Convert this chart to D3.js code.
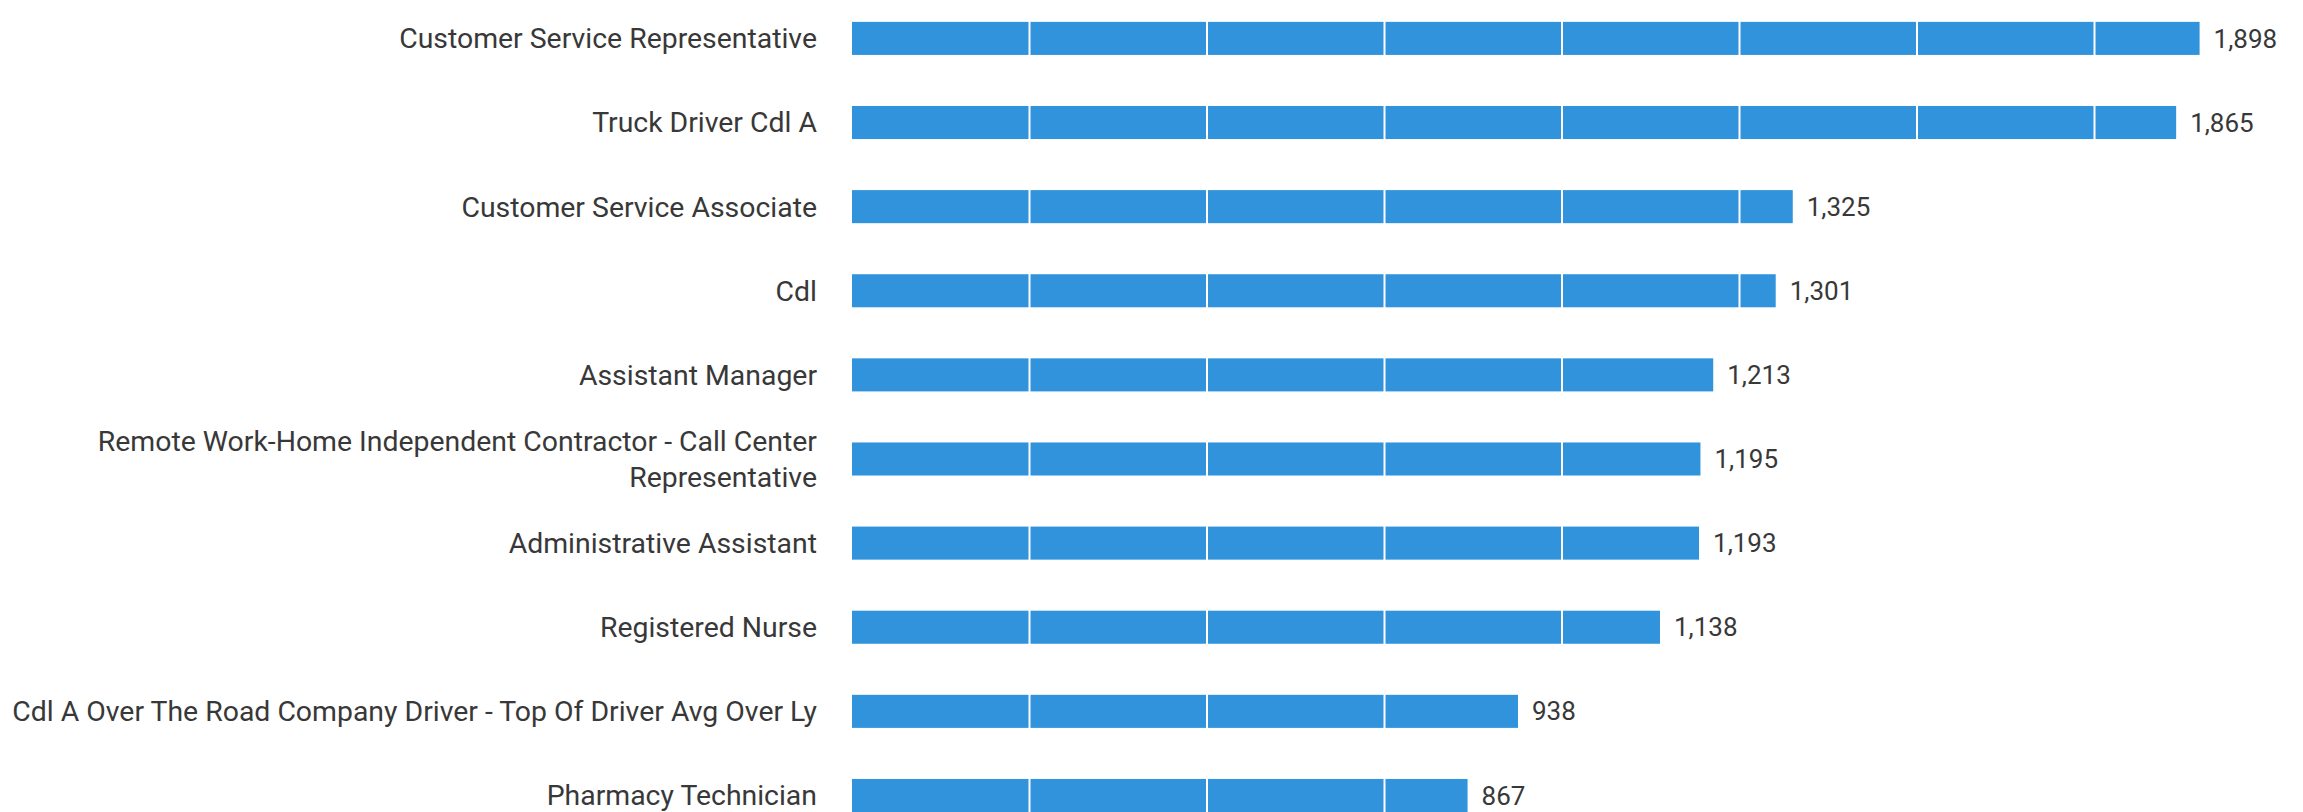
<!DOCTYPE html>
<html>
<head>
<meta charset="utf-8">
<script src="https://cdnjs.cloudflare.com/ajax/libs/d3/7.8.5/d3.min.js"></script>
<style>
  html, body { margin: 0; padding: 0; background: #ffffff; }
  svg { display: block; }
  text { font-family: Roboto, "Noto Sans", sans-serif; fill: #383838; }
</style>
</head>
<body>
<svg id="chart" width="2303" height="812"></svg>
<script>
// Job titles and their posting counts
const categories = [
  "Customer Service Representative",
  "Truck Driver Cdl A",
  "Customer Service Associate",
  "Cdl",
  "Assistant Manager",
  "Remote Work-Home Independent Contractor - Call Center Representative",
  "Administrative Assistant",
  "Registered Nurse",
  "Cdl A Over The Road Company Driver - Top Of Driver Avg Over Ly",
  "Pharmacy Technician"
];
const values = [1898, 1865, 1325, 1301, 1213, 1195, 1193, 1138, 938, 867];
// Category labels as broken into lines
const labelLines = [
  ["Customer Service Representative"],
  ["Truck Driver Cdl A"],
  ["Customer Service Associate"],
  ["Cdl"],
  ["Assistant Manager"],
  ["Remote Work-Home Independent Contractor - Call Center", "Representative"],
  ["Administrative Assistant"],
  ["Registered Nurse"],
  ["Cdl A Over The Road Company Driver - Top Of Driver Avg Over Ly"],
  ["Pharmacy Technician"]
];
const gridTicks = [250, 500, 750, 1000, 1250, 1500, 1750];

const W = 2303, H = 812;
const plotLeft = 852;
const labelGap = 35;
const svg = d3.select("#chart");

const x = d3.scaleLinear().domain([0, 2000]).range([plotLeft, plotLeft + 1420]);
const y = d3.scaleBand().domain(categories).range([0, H])
  .paddingInner(0.607).paddingOuter(0.13).align(1);

const data = categories.map((c, i) => ({ cat: c, value: values[i], lines: labelLines[i] }));
const fmt = d3.format(",");

// Bars
svg.append("g").selectAll("rect").data(data).join("rect")
  .attr("x", x(0))
  .attr("y", d => y(d.cat))
  .attr("width", d => x(d.value) - x(0))
  .attr("height", y.bandwidth())
  .attr("fill", "#3193db");

// White gridlines drawn across the bars
svg.append("g").selectAll("line").data(gridTicks).join("line")
  .attr("x1", d => x(d)).attr("x2", d => x(d))
  .attr("y1", 0).attr("y2", H)
  .attr("stroke", "#ffffff")
  .attr("stroke-width", 2);

// Category labels, right aligned
const labels = svg.append("g").selectAll("text").data(data).join("text")
  .attr("text-anchor", "end")
  .attr("font-size", 28.4)
  .attr("x", plotLeft - labelGap)
  .attr("y", d => y(d.cat) + y.bandwidth() / 2);
labels.each(function(d) {
  const t = d3.select(this);
  const n = d.lines.length;
  const lh = 36;
  d.lines.forEach((ln, k) => {
    t.append("tspan")
      .attr("x", plotLeft - labelGap)
      .attr("y", y(d.cat) + y.bandwidth() / 2 + (k - (n - 1) / 2) * lh)
      .attr("dy", "0.35em")
      .text(ln);
  });
});

// Value labels at bar ends
svg.append("g").selectAll("text").data(data).join("text")
  .attr("font-size", 26)
  .attr("x", d => x(d.value) + 14)
  .attr("y", d => y(d.cat) + y.bandwidth() / 2)
  .attr("dy", "0.35em")
  .text(d => fmt(d.value));
</script>
</body>
</html>
